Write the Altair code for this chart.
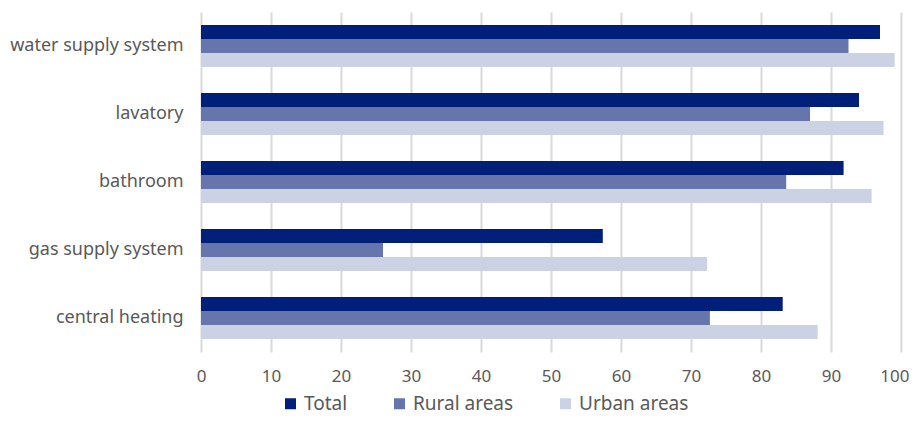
import altair as alt
import pandas as pd

categories = ["water supply system", "lavatory", "bathroom", "gas supply system", "central heating"]
series = ["Total", "Rural areas", "Urban areas"]
total = [97.0, 94.0, 91.8, 57.4, 83.1]
rural = [92.5, 87.0, 83.6, 26.0, 72.7]
urban = [99.1, 97.5, 95.8, 72.3, 88.1]
colors = ["#001f78", "#6676ad", "#cbd2e4"]

rows = []
for i, c in enumerate(categories):
    for s, vals in zip(series, [total, rural, urban]):
        rows.append({"category": c, "series": s, "value": vals[i]})
df = pd.DataFrame(rows)

font = "Noto Sans"
text_color = "#595959"

chart = alt.Chart(df).mark_bar().encode(
    y=alt.Y("category:N", sort=categories, title=None,
            scale=alt.Scale(paddingInner=0.38, paddingOuter=0.19),
            axis=alt.Axis(ticks=False, domain=False, labelPadding=18, labelFontSize=18,
                          labelColor=text_color, labelFont=font, grid=False)),
    yOffset=alt.YOffset("series:N", sort=series),
    x=alt.X("value:Q", title=None, scale=alt.Scale(domain=[0, 100], nice=False),
            axis=alt.Axis(values=list(range(0, 101, 10)), ticks=False, domain=False,
                          labelFlush=False, labelBound=False,
                          labelAlign={"condition": {"test": "datum.value === 100", "value": "right"}, "value": "center"},
                          labelOffset={"condition": {"test": "datum.value === 100", "value": 8}, "value": 0},
                          labelPadding=16, labelFontSize=17, labelColor=text_color, labelFont=font,
                          gridColor="#d9d9d9", gridWidth=2)),
    color=alt.Color("series:N", sort=series, scale=alt.Scale(domain=series, range=colors),
                    legend=alt.Legend(title=None, orient="none", direction="horizontal",
                                      legendX=80, legendY=382, padding=0,
                                      symbolType="square", symbolSize=121, symbolStrokeWidth=0,
                                      labelFontSize=19, labelColor=text_color, labelFont=font,
                                      columnPadding=42, symbolOpacity=1)),
).properties(
    width=700, height=340,
    autosize=alt.AutoSizeParams(type="none"),
    padding={"left": 193, "top": 4, "right": 8, "bottom": 63},
).configure_view(stroke=None)

chart.save("out.html", embed_options={"renderer": "svg", "actions": False})
